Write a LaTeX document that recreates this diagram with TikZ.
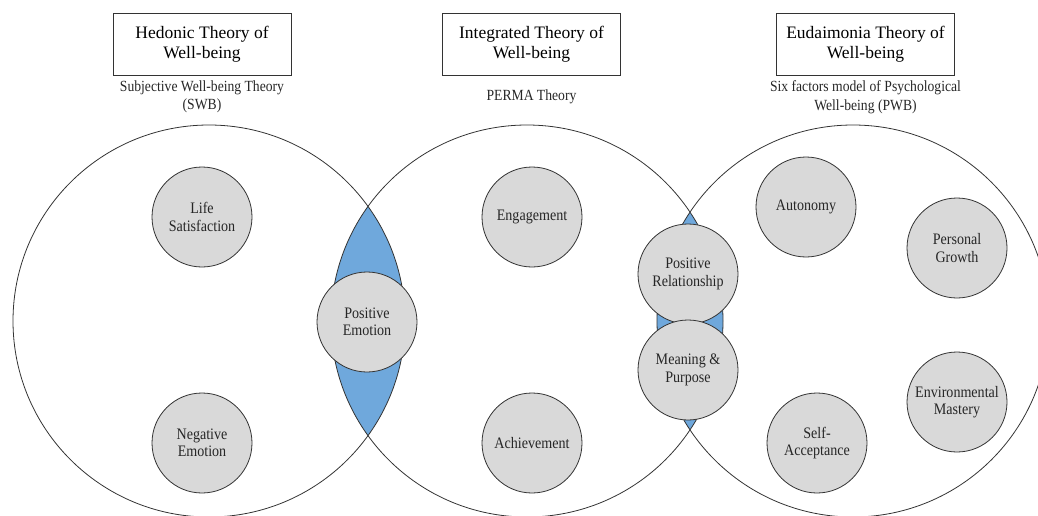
\documentclass[tikz,border=0pt]{standalone}
\usepackage{fontspec}
\setmainfont{Liberation Serif}
\newfontfamily\narrowserif[FakeStretch=0.88]{Liberation Serif}
\usetikzlibrary{positioning}
\definecolor{lensblue}{HTML}{6FA8DC}
\definecolor{factorgray}{HTML}{D9D9D9}
\tikzstyle{theory} = [rectangle,
minimum width=178pt,
minimum height=62pt,
text centered,
align=center,
draw=black!80,
line width=0.8pt,
font=\fontsize{17.5}{20}\selectfont]
\tikzstyle{model} = [text centered,
align=center,
text=black!85,
font=\narrowserif\fontsize{15.5}{18.5}\selectfont]
\tikzstyle{factor} = [circle,
minimum size=100pt,
inner sep=0pt,
text centered,
align=center,
draw=black!80,
line width=0.8pt,
fill=factorgray,
text=black!85,
font=\narrowserif\fontsize{16}{17.5}\selectfont]
\tikzstyle{setring} = [draw=black!80, line width=0.8pt]

\begin{document}
\begin{tikzpicture}[x=1pt, y=-1pt, node distance=53pt]
    \useasboundingbox (0,0) rectangle (1038,516);
    \coordinate (hedset) at (209,321);
    \coordinate (intset) at (527,321);
    \coordinate (eudset) at (853,321);

    % shared parts of the sets
    \begin{scope}
        \clip (hedset) circle [radius=196pt];
        \fill [lensblue] (intset) circle [radius=196pt];
    \end{scope}
    \begin{scope}
        \clip (intset) circle [radius=196pt];
        \fill [lensblue] (eudset) circle [radius=196pt];
    \end{scope}
    \draw [setring] (hedset) circle [radius=196pt];
    \draw [setring] (intset) circle [radius=196pt];
    \draw [setring] (eudset) circle [radius=196pt];

    \node (hedonic) [theory] at (202,44) {Hedonic Theory of\\Well-being};
    \node (integrated) [theory] at (531.5,44) {Integrated Theory of\\Well-being};
    \node (eudaimonia) [theory] at (865.5,44) {Eudaimonia Theory of\\Well-being};
    \node (swb) [model, below of=hedonic] {Subjective Well-being Theory\\(SWB)};
    \node (perma) [model, below of=integrated] {PERMA Theory};
    \node (pwb) [model, below of=eudaimonia] {Six factors model of Psychological\\Well-being (PWB)};

    \node (life) [factor] at (202,217) {Life\\Satisfaction};
    \node (negemo) [factor] at (202,443) {Negative\\Emotion};
    \node (posemo) [factor] at (367,322) {Positive\\Emotion};
    \node (engage) [factor] at (532,217) {Engagement};
    \node (achieve) [factor] at (532,443) {Achievement};
    \node (posrel) [factor] at (688,274) {Positive\\Relationship};
    \node (meaning) [factor] at (688,370) {Meaning \&\\Purpose};
    \node (autonomy) [factor] at (806,207) {Autonomy};
    \node (growth) [factor] at (957,248) {Personal\\Growth};
    \node (mastery) [factor] at (957,402) {Environmental\\Mastery};
    \node (selfacc) [factor] at (817,443) {Self-\\Acceptance};
\end{tikzpicture}
\end{document}
